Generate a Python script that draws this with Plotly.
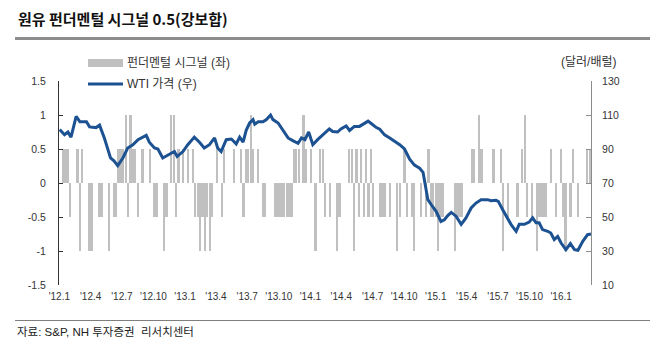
import pandas as pd
import plotly.graph_objects as go

# ---------------- data ----------------
signal_start = "2012-01-05"
signal = [
    0, 0.5, 0.5, 0.5, -0.5, 0, 0, 0.5, -1, 0.5,            # 0-9
    0, 0, -1, -1, 0, 0, -0.5, -0.5, 0, 0,                  # 10-19
    -1, 0, -0.5, -0.5, 0.5, 0.5, 0.5, 1, -0.5, 1,          # 20-29
    0.5, 0.5, -0.5, 0, 0.5, 0, 0, 0.5, 0, -0.5,            # 30-39
    -0.5, 0, 0, -1, -0.5, 0, 1, 1, -0.5, 0.5,              # 40-49
    0, 0.5, 0, 0.5, 0, 0.5, -0.5, -0.5, -1, -0.5,          # 50-59
    -1, -0.5, -1, -0.5, 0, 0.5, 0, -0.5, 0.5, 0,           # 60-69
    0, 0, 0.5, 0, 0, 0.5, -0.5, 0.5, 0.5, 1,               # 70-79
    0.5, 0, 0.5, 0, -0.5, -0.5, 0, 0, 0, -0.5,             # 80-89
    -0.5, -0.5, -0.5, -0.5, -0.5, -0.5, -0.5, 0.5, 0.5, 0.5,  # 90-99
    0, 1, 0.5, 0, 0.5, 0, -1, 0, 0.5, 0.5,                 # 100-109
    -0.5, 0, -0.5, 0, 0, -1, -0.5, 0, 0, 0,                # 110-119
    0.5, 0.5, -1, 0.5, -0.5, 0.5, -0.5, 0.5, -0.5, 0.5,    # 120-129
    -0.5, 0, 0, -0.5, -0.5, -0.5, 0, -0.5, 0, 0,           # 130-139
    -1, -0.5, 0, 0.5, -0.5, 0, -0.5, -1, 0, 0,             # 140-149
    -0.5, 0, -0.5, 0.5, -0.5, -0.5, -0.5, -1, -0.5, -0.5,  # 150-159
    0, 0, 0, 0, -1, -0.5, -0.5, -0.5, 0, 0,                # 160-169
    0, 0.5, 0.5, 0, 1, 0.5, 0, 0, 0, 0,                    # 170-179
    0.5, 0, 0, 0.5, -1, 0, -0.5, 0, 0, 0,                  # 180-189
    -0.5, 0, 0.5, 1, -0.5, 0, -0.5, 0, -1, -0.5,           # 190-199
    -0.5, -0.5, -0.5, 0, 0.5, 0, -0.5, 0, 0.5, -0.5,       # 200-209
    -1, 0, -0.5, 0.5, 0, -0.5, 0, 0, 0, 0.5,               # 210-219
    0.5,                                                   # 220
]
signal_dates = pd.date_range(signal_start, periods=len(signal), freq="7D")

wti_dates = [
    "2012-01-02", "2012-01-16", "2012-01-26", "2012-02-04", "2012-02-19", "2012-03-01",
    "2012-03-20", "2012-03-29", "2012-04-17", "2012-04-27", "2012-05-11", "2012-05-21",
    "2012-05-29", "2012-06-08", "2012-06-19", "2012-07-04", "2012-07-18", "2012-08-02",
    "2012-08-17", "2012-09-10", "2012-09-19", "2012-10-04", "2012-10-14", "2012-10-28",
    "2012-11-22", "2012-12-01", "2012-12-09", "2012-12-26", "2013-01-09", "2013-01-28",
    "2013-02-12", "2013-02-26", "2013-03-13", "2013-03-28", "2013-04-06", "2013-04-16",
    "2013-05-01", "2013-05-16", "2013-05-30", "2013-06-09", "2013-06-19", "2013-06-28",
    "2013-07-08", "2013-07-18", "2013-07-23", "2013-08-02", "2013-08-16", "2013-08-26",
    "2013-09-07", "2013-09-14", "2013-09-29", "2013-10-13", "2013-10-28", "2013-11-12",
    "2013-11-26", "2013-12-06", "2013-12-16", "2013-12-27", "2014-01-08", "2014-01-22",
    "2014-02-11", "2014-02-25", "2014-03-07", "2014-03-21", "2014-03-31", "2014-04-15",
    "2014-04-25", "2014-05-09", "2014-05-24", "2014-06-03", "2014-06-18", "2014-06-27",
    "2014-07-12", "2014-07-22", "2014-08-05", "2014-08-20", "2014-09-03", "2014-09-18",
    "2014-10-02", "2014-10-17", "2014-10-31", "2014-11-15", "2014-11-25", "2014-12-04",
    "2014-12-09", "2014-12-19", "2015-01-02", "2015-01-16", "2015-01-26", "2015-02-05",
    "2015-02-15", "2015-03-01", "2015-03-16", "2015-03-30", "2015-04-14", "2015-04-28",
    "2015-05-13", "2015-06-01", "2015-06-11", "2015-06-25", "2015-07-02", "2015-07-15",
    "2015-07-25", "2015-08-08", "2015-08-23", "2015-09-01", "2015-09-16", "2015-09-30",
    "2015-10-10", "2015-10-20", "2015-10-29", "2015-11-08", "2015-11-23", "2015-12-02",
    "2015-12-12", "2015-12-22", "2016-01-01", "2016-01-15", "2016-01-28", "2016-02-09",
    "2016-02-19", "2016-03-04", "2016-03-18", "2016-03-28",
]
wti_values = [
    101.4, 98.4, 100.0, 97.0, 109.2, 106.0,
    106.0, 103.0, 102.6, 104.0, 96.5, 90.6,
    84.7, 83.0, 80.2, 84.7, 90.6, 92.5,
    95.5, 98.0, 94.0, 90.6, 90.0, 84.7,
    87.6, 88.5, 85.6, 88.5, 92.5, 97.0,
    94.0, 90.6, 92.5, 96.5, 90.6, 88.5,
    95.5, 95.9, 93.0, 97.0, 94.0, 101.0,
    105.3, 107.3, 104.6, 106.0, 106.0, 107.3,
    110.0, 107.3, 105.3, 101.0, 96.5, 94.8,
    93.4, 96.5, 95.5, 100.0, 92.5, 95.5,
    99.5, 101.8, 100.3, 100.0, 101.8, 103.6,
    100.9, 103.3, 103.3, 104.6, 106.4, 105.0,
    102.6, 101.6, 98.3, 96.5, 94.8, 92.5,
    90.0, 84.0, 80.5, 78.7, 76.3, 67.0,
    60.2, 57.2, 53.3, 47.4, 48.4, 50.8,
    52.7, 50.5, 45.7, 49.5, 55.3, 58.2,
    60.2, 60.2, 59.6, 59.8, 59.2, 54.3,
    50.5, 45.7, 41.6, 45.7, 45.7, 47.0,
    49.5, 46.6, 46.6, 42.6, 41.6, 40.6,
    36.7, 38.6, 34.7, 30.8, 34.3, 30.8,
    30.4, 35.7, 39.6, 40.0,
]

x_tick_dates = ["2012-01-01", "2012-04-01", "2012-07-01", "2012-10-01",
                "2013-01-01", "2013-04-01", "2013-07-01", "2013-10-01",
                "2014-01-01", "2014-04-01", "2014-07-01", "2014-10-01",
                "2015-01-01", "2015-04-01", "2015-07-01", "2015-10-01",
                "2016-01-01"]
x_tick_labels = ["'12.1", "'12.4", "'12.7", "'12.10", "'13.1", "'13.4", "'13.7", "'13.10",
                 "'14.1", "'14.4", "'14.7", "'14.10", "'15.1", "'15.4", "'15.7", "'15.10",
                 "'16.1"]
left_ticks = [-1.5, -1, -0.5, 0, 0.5, 1, 1.5]
left_tick_labels = ["-1.5", "-1", "-0.5", "0", "0.5", "1", "1.5"]
right_ticks = [10, 30, 50, 70, 90, 110, 130]

title_text = "원유 펀더멘털 시그널 0.5(강보합)"
legend_bar = "펀더멘털 시그널 (좌)"
legend_line = "WTI 가격 (우)"
unit_text = "(달러/배럴)"
source_text = "자료: S&P, NH 투자증권  리서치센터"

# ---------------- style ----------------
W, H = 650, 350
ML, MR, MT, MB = 59, 59, 81, 65
PW, PH = W - ML - MR, H - MT - MB
BAR_COLOR = "#c0c0c0"
LINE_COLOR = "#1c5192"
FONT = "Liberation Sans, Arial, Noto Sans CJK KR, sans-serif"
KFONT = "Noto Sans CJK KR, sans-serif"
XRANGE = ["2011-12-31", "2016-03-28"]
WEEK_MS = 7 * 86400000


def px(x):
    return (x - ML) / PW


def py(y):
    return 1 - (y - MT) / PH


fig = go.Figure()
fig.add_trace(go.Bar(x=signal_dates, y=signal, marker=dict(color=BAR_COLOR, line=dict(width=0)),
                     width=0.92 * WEEK_MS, showlegend=False, name=legend_bar))
fig.add_trace(go.Scatter(x=wti_dates, y=wti_values, yaxis="y2", mode="lines",
                         line=dict(color=LINE_COLOR, width=3), showlegend=False, name=legend_line))

fig.update_layout(
    width=W, height=H, autosize=False,
    margin=dict(l=ML, r=MR, t=MT, b=MB, pad=0),
    paper_bgcolor="white", plot_bgcolor="white",
    font=dict(family=FONT, size=10, color="#333333"),
    bargap=0,
    xaxis=dict(type="date", range=XRANGE, tickvals=x_tick_dates, ticktext=x_tick_labels,
               showgrid=False, zeroline=False, showline=False, ticks="",
               tickfont=dict(size=10, color="#333333"), ticklabelstandoff=4, anchor="y"),
    xaxis2=dict(type="date", range=XRANGE, overlaying="x", anchor="free", position=0.5,
                tickvals=x_tick_dates, showticklabels=False, showgrid=False, zeroline=False,
                showline=True, linecolor="#000000", linewidth=1,
                ticks="inside", ticklen=4, tickcolor="#000000", tickwidth=1),
    yaxis=dict(range=[-1.5, 1.5], tickvals=left_ticks, ticktext=left_tick_labels,
               showgrid=False, zeroline=False, showline=True, linecolor="#333333", linewidth=1,
               ticks="inside", ticklen=4, tickcolor="#333333",
               tickfont=dict(size=10.5, color="#333333"), ticklabelstandoff=10),
    yaxis2=dict(range=[10, 130], tickvals=right_ticks, overlaying="y", side="right",
                showgrid=False, zeroline=False, showline=True, linecolor="#8c8c8c", linewidth=1,
                ticks="inside", ticklen=5, tickcolor="#8c8c8c",
                tickfont=dict(size=10.5, color="#333333"), ticklabelstandoff=8),
)

shapes = [
    dict(type="line", xref="paper", yref="paper", x0=px(15), x1=px(650), y0=py(38.5), y1=py(38.5),
         line=dict(color="#8c8c8c", width=3)),
    dict(type="line", xref="paper", yref="paper", x0=px(15), x1=px(650), y0=py(320.5), y1=py(320.5),
         line=dict(color="#7f7f7f", width=1)),
    dict(type="rect", xref="paper", yref="paper", x0=px(88), x1=px(123), y0=py(67), y1=py(59),
         fillcolor=BAR_COLOR, line=dict(width=0)),
    dict(type="line", xref="paper", yref="paper", x0=px(88), x1=px(123), y0=py(84), y1=py(84),
         line=dict(color=LINE_COLOR, width=3)),
]
annotations = [
    dict(text=f"<b>{title_text}</b>", xref="paper", yref="paper", x=px(16), y=py(19),
         xanchor="left", yanchor="middle", showarrow=False,
         font=dict(family=KFONT, size=15, color="#111111")),
    dict(text=legend_bar, xref="paper", yref="paper", x=px(125), y=py(63),
         xanchor="left", yanchor="middle", showarrow=False,
         font=dict(family=FONT, size=12, color="#333333")),
    dict(text=legend_line, xref="paper", yref="paper", x=px(125), y=py(84),
         xanchor="left", yanchor="middle", showarrow=False,
         font=dict(family=FONT, size=12, color="#333333")),
    dict(text=unit_text, xref="paper", yref="paper", x=px(619), y=py(62),
         xanchor="right", yanchor="middle", showarrow=False,
         font=dict(family=FONT, size=12, color="#333333")),
    dict(text=source_text, xref="paper", yref="paper", x=px(15), y=py(332),
         xanchor="left", yanchor="middle", showarrow=False,
         font=dict(family=FONT, size=11.5, color="#222222")),
]
fig.update_layout(shapes=shapes, annotations=annotations)

fig.write_html("out.html", config={"displayModeBar": False})
